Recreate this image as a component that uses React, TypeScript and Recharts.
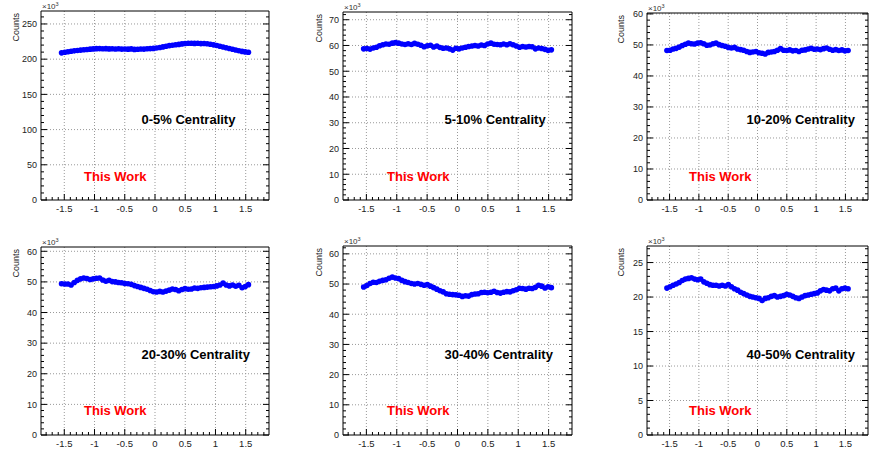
import React from 'react';
import { ScatterChart, Scatter, XAxis, YAxis, CartesianGrid } from 'recharts';

// ---------- DATA ----------
const phiBins = [
  -1.545, -1.492, -1.440, -1.387, -1.335, -1.283, -1.230, -1.178, -1.126, -1.073,
  -1.021, -0.969, -0.916, -0.864, -0.812, -0.759, -0.707, -0.654, -0.602, -0.550,
  -0.497, -0.445, -0.393, -0.340, -0.288, -0.236, -0.183, -0.131, -0.079, -0.026,
  0.026, 0.079, 0.131, 0.183, 0.236, 0.288, 0.340, 0.393, 0.445, 0.497,
  0.550, 0.602, 0.654, 0.707, 0.759, 0.812, 0.864, 0.916, 0.969, 1.021,
  1.073, 1.126, 1.178, 1.230, 1.283, 1.335, 1.387, 1.440, 1.492, 1.545,
];

const counts0to5 = [
  209.0, 209.8, 210.5, 211.2, 211.8, 212.3, 212.9, 213.3, 213.8, 214.2,
  214.6, 214.9, 215.0, 214.7, 214.9, 214.6, 214.8, 214.5, 214.7, 214.3,
  214.5, 214.2, 214.6, 213.9, 214.1, 214.5, 214.3, 214.8, 215.0, 215.3,
  215.8, 216.5, 217.4, 218.3, 219.2, 219.8, 220.4, 221.0, 221.7, 222.3,
  222.5, 222.6, 222.4, 222.5, 222.1, 222.2, 221.8, 221.2, 220.3, 219.3,
  218.3, 217.3, 216.3, 215.2, 214.0, 213.0, 212.0, 211.0, 210.3, 209.8,
];
const counts5to10 = [
  58.7, 58.8, 58.6, 59.0, 59.3, 59.9, 60.3, 60.6, 60.5, 60.9,
  61.1, 60.9, 60.6, 60.4, 60.7, 60.4, 60.8, 60.5, 60.1, 59.5,
  59.9, 60.1, 59.4, 59.8, 59.2, 58.9, 59.0, 58.7, 58.2, 58.9,
  58.7, 59.0, 59.3, 59.6, 59.8, 60.0, 59.8, 60.2, 60.0, 60.6,
  60.9, 60.5, 60.4, 60.3, 60.6, 60.3, 60.7, 60.3, 59.8, 59.3,
  59.6, 59.4, 59.6, 59.5, 58.7, 59.0, 58.8, 58.5, 58.1, 58.3,
];
const counts10to20 = [
  48.2, 48.3, 48.7, 48.9, 49.3, 49.8, 50.2, 50.6, 50.4, 50.3,
  50.6, 50.7, 50.4, 49.9, 50.0, 50.4, 50.6, 50.1, 49.8, 49.6,
  49.2, 49.0, 49.2, 48.7, 48.5, 48.3, 47.9, 47.6, 47.7, 47.9,
  47.5, 47.3, 47.1, 47.6, 47.7, 47.9, 48.3, 48.8, 48.3, 48.2,
  48.4, 48.1, 48.2, 47.9, 48.3, 48.4, 48.7, 48.9, 48.6, 48.7,
  48.5, 48.8, 49.0, 48.6, 48.3, 48.5, 48.2, 48.4, 48.1, 48.2,
];
const counts20to30 = [
  49.4, 49.3, 49.3, 49.0, 49.8, 50.5, 51.0, 51.3, 51.1, 50.8,
  51.0, 51.2, 51.3, 50.6, 50.2, 50.5, 50.1, 50.0, 49.8, 49.7,
  49.5, 49.4, 49.2, 48.8, 48.5, 48.2, 47.9, 47.6, 47.2, 46.8,
  46.7, 46.9, 46.7, 47.0, 47.3, 47.7, 47.5, 47.1, 47.5, 47.8,
  47.6, 47.7, 48.0, 47.9, 48.1, 48.2, 48.3, 48.4, 48.5, 48.7,
  49.0, 49.6, 49.0, 48.7, 49.0, 48.6, 48.9, 48.1, 48.5, 49.1,
];
const counts30to40 = [
  49.0, 49.5, 50.2, 50.6, 50.5, 50.9, 51.2, 51.4, 51.9, 52.3,
  52.0, 51.8, 51.2, 50.8, 50.5, 50.2, 50.0, 50.2, 49.9, 49.6,
  49.8, 49.3, 48.8, 48.3, 47.8, 47.4, 46.8, 46.6, 46.5, 46.4,
  46.3, 45.9, 46.1, 46.0, 46.5, 46.7, 46.8, 47.2, 47.3, 47.1,
  47.3, 47.6, 47.2, 47.0, 47.3, 47.5, 47.4, 47.8, 48.1, 48.6,
  48.5, 48.3, 48.6, 48.5, 48.9, 49.6, 49.3, 48.7, 49.1, 48.8,
];
const counts40to50 = [
  21.3, 21.5, 21.7, 21.9, 22.1, 22.4, 22.6, 22.7, 22.8, 22.6,
  22.5, 22.6, 22.2, 22.0, 21.8, 21.7, 21.7, 21.6, 21.7, 21.6,
  21.8, 21.5, 21.2, 21.0, 20.7, 20.5, 20.3, 20.1, 20.0, 19.9,
  19.8, 19.5, 19.8, 19.9, 20.1, 20.2, 20.0, 20.1, 20.2, 20.4,
  20.3, 20.1, 19.9, 19.8, 20.0, 20.2, 20.3, 20.4, 20.5, 20.6,
  20.9, 21.1, 21.0, 20.9, 21.2, 21.3, 20.9, 21.2, 21.3, 21.2,
];

const centralityLabels = [
  '0-5% Centrality', '5-10% Centrality', '10-20% Centrality',
  '20-30% Centrality', '30-40% Centrality', '40-50% Centrality',
];
const seriesList = [counts0to5, counts5to10, counts10to20, counts20to30, counts30to40, counts40to50];

const xDomain = [-1.885, 1.885];
const xMajorTicks = [-1.5, -1, -0.5, 0, 0.5, 1, 1.5];
const yMaxList = [268.4, 73, 60.3, 61.4, 62.6, 27.4];
const yMajorTicksList = [
  [0, 50, 100, 150, 200, 250],
  [0, 10, 20, 30, 40, 50, 60, 70],
  [0, 10, 20, 30, 40, 50, 60],
  [0, 10, 20, 30, 40, 50, 60],
  [0, 10, 20, 30, 40, 50, 60],
  [0, 5, 10, 15, 20, 25],
];
const yMinorStepList = [10, 2, 2, 2, 2, 1];

// ---------- LAYOUT ----------
const frames = [
  { L: 41, T: 11, R: 269, B: 200 },
  { L: 343, T: 12, R: 572, B: 200 },
  { L: 647, T: 13, R: 868, B: 200 },
  { L: 41, T: 247, R: 269, B: 435 },
  { L: 343, T: 246, R: 572, B: 435 },
  { L: 647, T: 246, R: 868, B: 435 },
];
const labelPos = [
  { cx: 141.5, cy: 123.5, wx: 84, wy: 180.5 },
  { cx: 444.5, cy: 123.5, wx: 387, wy: 180.5 },
  { cx: 746.5, cy: 123.5, wx: 689, wy: 180.5 },
  { cx: 141.5, cy: 358.5, wx: 84, wy: 414.5 },
  { cx: 444.5, cy: 358.5, wx: 387, wy: 414.5 },
  { cx: 746.5, cy: 358.5, wx: 689, wy: 414.5 },
];
const countsX = [18.7, 321.5, 623.5, 18.7, 321.5, 623.5];

const FONT = '"Liberation Sans", Arial, Helvetica, sans-serif';

function minorTicks(lo: number, hi: number, step: number) {
  const out: number[] = [];
  const n0 = Math.ceil(lo / step - 1e-9);
  const n1 = Math.floor(hi / step + 1e-9);
  for (let n = n0; n <= n1; n++) out.push(Math.round(n * step * 1000) / 1000);
  return out;
}
const xAllTicks = minorTicks(-1.8, 1.8, 0.1);

function isMajor(v: number, majors: number[]) {
  return majors.some((m) => Math.abs(m - v) < 1e-6);
}

function XTick(props: any) {
  const { x, y, payload, side, majors } = props;
  const v = payload.value;
  const maj = isMajor(v, majors);
  const len = maj ? 6 : 3;
  const dir = side === 'bottom' ? -1 : 1;
  return (
    <g>
      <line x1={x} x2={x} y1={y} y2={y + dir * len} stroke="#000" strokeWidth={1} />
      {side === 'bottom' && maj && (
        <text x={x} y={y + 12} textAnchor="middle" fontSize={9.5} fill="#222" fontFamily={FONT}>
          {String(v)}
        </text>
      )}
    </g>
  );
}

function YTick(props: any) {
  const { x, y, payload, side, majors } = props;
  const v = payload.value;
  const maj = isMajor(v, majors);
  const len = maj ? 6 : 3;
  const dir = side === 'left' ? 1 : -1;
  return (
    <g>
      <line x1={x} x2={x + dir * len} y1={y} y2={y} stroke="#000" strokeWidth={1} />
      {side === 'left' && maj && (
        <text x={x - 4} y={y + 3.3} textAnchor="end" fontSize={9} fill="#222" fontFamily={FONT}>
          {String(v)}
        </text>
      )}
    </g>
  );
}

function Panel({ idx }: { idx: number }) {
  const f = frames[idx];
  const w = f.R - f.L;
  const h = f.B - f.T;
  const data = phiBins.map((x, i) => ({ x, y: seriesList[idx][i] }));
  const yMax = yMaxList[idx];
  const yMaj = yMajorTicksList[idx];
  const yAll = minorTicks(0, yMax, yMinorStepList[idx]);
  return (
    <div style={{ position: 'absolute', left: f.L - 40, top: f.T - 6 }}>
      <ScatterChart width={w + 46} height={h + 26} margin={{ top: 5, right: 5, bottom: 0, left: 0 }}>
        <CartesianGrid
          xAxisId="b"
          yAxisId="l"
          stroke="#999"
          strokeDasharray="1 2"
          verticalValues={xMajorTicks.slice()}
          horizontalValues={yMaj.filter((v) => v > 0)}
        />
        <XAxis
          xAxisId="b"
          orientation="bottom"
          dataKey="x"
          type="number"
          domain={xDomain}
          allowDataOverflow
          ticks={xAllTicks}
          interval={0}
          tickSize={0}
          tickMargin={0}
          height={20}
          axisLine={{ stroke: '#000' }}
          tickLine={false}
          tick={(p: any) => <XTick {...p} side="bottom" majors={xMajorTicks} />}
        />
        <XAxis
          xAxisId="t"
          orientation="top"
          type="number"
          domain={xDomain}
          allowDataOverflow
          ticks={xAllTicks}
          interval={0}
          tickSize={0}
          tickMargin={0}
          height={1}
          axisLine={{ stroke: '#000' }}
          tickLine={false}
          tick={(p: any) => <XTick {...p} side="top" majors={xMajorTicks} />}
        />
        <YAxis
          yAxisId="l"
          orientation="left"
          dataKey="y"
          type="number"
          domain={[0, yMax]}
          allowDataOverflow
          ticks={yAll}
          interval={0}
          tickSize={0}
          tickMargin={0}
          width={40}
          axisLine={{ stroke: '#000' }}
          tickLine={false}
          tick={(p: any) => <YTick {...p} side="left" majors={yMaj} />}
        />
        <YAxis
          yAxisId="r"
          orientation="right"
          type="number"
          domain={[0, yMax]}
          allowDataOverflow
          ticks={yAll}
          interval={0}
          tickSize={0}
          tickMargin={0}
          width={1}
          axisLine={{ stroke: '#000' }}
          tickLine={false}
          tick={(p: any) => <YTick {...p} side="right" majors={yMaj} />}
        />
        <Scatter
          data={data}
          xAxisId="b"
          yAxisId="l"
          isAnimationActive={false}
          shape={(p: any) => <circle cx={p.cx} cy={p.cy} r={2.8} fill="#0000ff" />}
        />
      </ScatterChart>
    </div>
  );
}

export default function App() {
  return (
    <div
      style={{
        position: 'absolute',
        left: 0,
        top: 0,
        width: 869,
        height: 449,
        overflow: 'hidden',
        background: '#fff',
      }}
    >
      {frames.map((_, i) => (
        <Panel key={i} idx={i} />
      ))}
      <svg
        width={869}
        height={449}
        style={{ position: 'absolute', left: 0, top: 0, pointerEvents: 'none' }}
        fontFamily={FONT}
      >
        {frames.map((f, i) => (
          <g key={i}>
            <text
              transform={`translate(${countsX[i]}, ${f.T + 2}) rotate(-90)`}
              textAnchor="end"
              fontSize={9}
              fill="#222"
            >
              Counts
            </text>
            <text x={f.L + 1} y={f.T - 2} fontSize={8} fill="#333">
              ×10
              <tspan dy={-3} fontSize={5.5}>3</tspan>
            </text>
            <text x={labelPos[i].cx} y={labelPos[i].cy} fontSize={13} fontWeight="bold" fill="#000">
              {centralityLabels[i]}
            </text>
            <text x={labelPos[i].wx} y={labelPos[i].wy} fontSize={13} fontWeight="bold" fill="#ff0000">
              This Work
            </text>
          </g>
        ))}
      </svg>
    </div>
  );
}
